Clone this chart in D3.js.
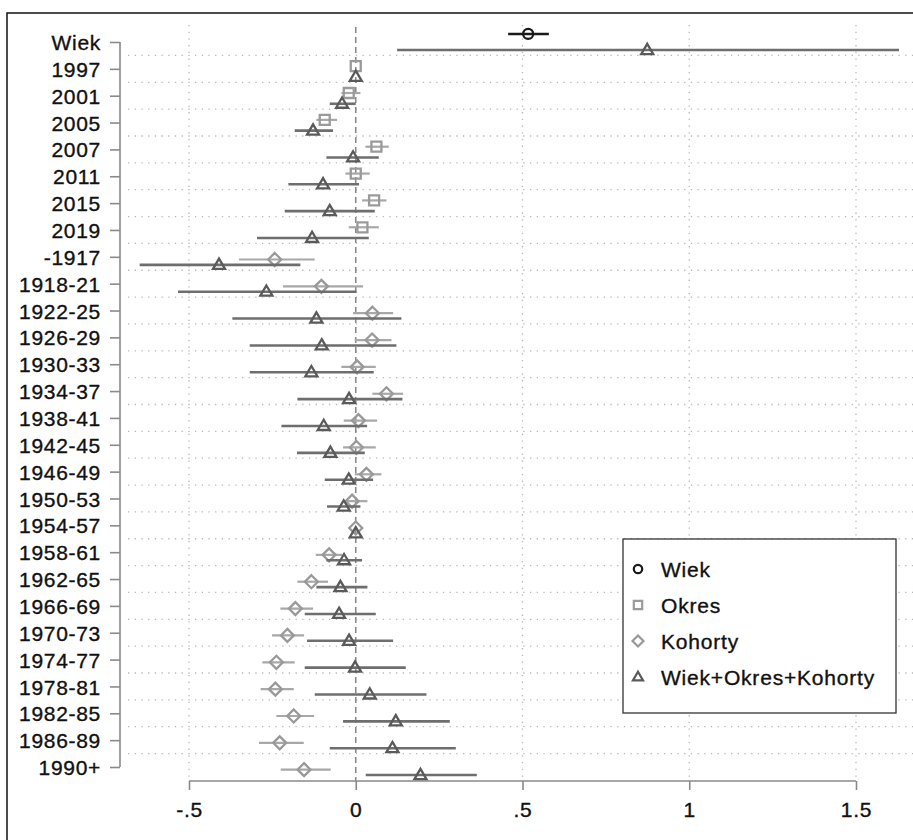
<!DOCTYPE html>
<html>
<head>
<meta charset="utf-8">
<script src="https://cdn.jsdelivr.net/npm/d3@7"></script>
<style>
  html, body { margin: 0; padding: 0; background: #fff; overflow: hidden; }
  svg { display: block; }
  text { font-family: "Liberation Sans", Arial, sans-serif; }
</style>
</head>
<body>
<div id="chart"></div>
<script>
// kategorie na osi Y
const okresCats = ["1997", "2001", "2005", "2007", "2011", "2015", "2019"]
const kohortyCats = ["-1917", "1918-21", "1922-25", "1926-29", "1930-33", "1934-37", "1938-41",
  "1942-45", "1946-49", "1950-53", "1954-57", "1958-61", "1962-65", "1966-69", "1970-73",
  "1974-77", "1978-81", "1982-85", "1986-89", "1990+"]
const allCats = ["Wiek"].concat(okresCats, kohortyCats)

// model: Wiek
const wiekEst = [0.517]
const wiekLo = [0.457]
const wiekHi = [0.579]

// model: Okres
const okresEst = [0, -0.021, -0.093, 0.062, 0.0, 0.055, 0.02]
const okresLo = [0, -0.043, -0.118, 0.029, -0.031, 0.019, -0.021]
const okresHi = [0, 0.014, -0.056, 0.099, 0.042, 0.092, 0.069]

// model: Kohorty
const kohortyEst = [-0.243, -0.103, 0.05, 0.049, 0.004, 0.092, 0.008, 0.002, 0.032, -0.011, 0,
  -0.08, -0.133, -0.181, -0.205, -0.238, -0.241, -0.186, -0.228, -0.155]
const kohortyLo = [-0.35, -0.218, -0.008, -0.003, -0.043, 0.05, -0.036, -0.038, -0.003, -0.038, 0,
  -0.12, -0.175, -0.226, -0.251, -0.28, -0.285, -0.238, -0.29, -0.225]
const kohortyHi = [-0.123, 0.022, 0.112, 0.107, 0.06, 0.142, 0.064, 0.06, 0.077, 0.035, 0,
  -0.04, -0.083, -0.128, -0.155, -0.183, -0.186, -0.125, -0.156, -0.075]

// model: Wiek+Okres+Kohorty (wszystkie kategorie)
const fullEst = [0.874, 0, -0.041, -0.128, -0.008, -0.098, -0.078, -0.131,
  -0.41, -0.268, -0.118, -0.102, -0.133, -0.02, -0.096, -0.076, -0.021, -0.036, 0,
  -0.035, -0.046, -0.05, -0.02, -0.002, 0.042, 0.12, 0.11, 0.194]
const fullLo = [0.124, 0, -0.078, -0.183, -0.088, -0.202, -0.213, -0.296,
  -0.648, -0.533, -0.37, -0.318, -0.318, -0.175, -0.223, -0.176, -0.093, -0.086, 0,
  -0.088, -0.118, -0.153, -0.146, -0.153, -0.123, -0.038, -0.078, 0.03]
const fullHi = [1.629, 0, 0.0, -0.068, 0.069, 0.01, 0.057, 0.039,
  -0.166, 0.002, 0.137, 0.122, 0.054, 0.14, 0.034, 0.027, 0.052, 0.014, 0,
  0.019, 0.035, 0.06, 0.112, 0.15, 0.212, 0.282, 0.3, 0.363]

const xTicks = [-0.5, 0, 0.5, 1, 1.5]
const xTickLabels = ["-.5", "0", ".5", "1", "1.5"]
const legendLabels = ["Wiek", "Okres", "Kohorty", "Wiek+Okres+Kohorty"]

let svgWidth = 913
let svgHeight = 840

const svg = d3.select("#chart").append("svg")
  .attr("width", svgWidth)
  .attr("height", svgHeight)

// ramka - prawa i dolna krawedz poza obrazem
svg.append("path")
  .attr("d", "M7,2000V13H2000")
  .attr("fill", "none")
  .attr("stroke", "#111")
  .attr("stroke-width", 1.5)

const x = d3.scaleLinear().domain([-0.5, 1.5]).range([189, 856])
const y = d3.scalePoint().domain(allCats).range([42, 767])
const step = y.step()

const plotTop = 25, plotBottom = 781, plotLeft = 128, plotRight = 913

// siatka pozioma miedzy kategoriami
const grid = svg.append("g")
for (let i = 0; i < allCats.length - 1; i++) {
  let gy = (y(allCats[i]) + y(allCats[i + 1])) / 2
  grid.append("line")
    .attr("x1", plotLeft).attr("x2", plotRight)
    .attr("y1", gy).attr("y2", gy)
    .attr("stroke", "#b8b8b8")
    .attr("stroke-width", 1.3)
    .attr("stroke-dasharray", "1.3,5.4")
}
// siatka pionowa
grid.selectAll(".vgrid")
  .data(xTicks.filter(d => d !== 0))
  .enter()
  .append("line")
  .attr("x1", d => x(d)).attr("x2", d => x(d))
  .attr("y1", plotTop).attr("y2", plotBottom)
  .attr("stroke", "#b8b8b8")
  .attr("stroke-width", 1.3)
  .attr("stroke-dasharray", "1.3,5.4")

// linia zero
svg.append("line")
  .attr("x1", x(0)).attr("x2", x(0))
  .attr("y1", 27).attr("y2", plotBottom)
  .attr("stroke", "#8a8a8a")
  .attr("stroke-width", 1.6)
  .attr("stroke-dasharray", "6,4")

function styleText(sel) {
  sel.attr("font-size", 21)
    .attr("letter-spacing", 0.7)
    .attr("fill", "#111")
    .attr("stroke", "#111")
    .attr("stroke-width", 0.35)
}

// os Y
const yAxis = svg.append("g")
  .attr("transform", "translate(120,0)")
  .call(d3.axisLeft(y).tickSize(10).tickPadding(9))
yAxis.select(".domain").attr("stroke", "#8a8a8a").attr("stroke-width", 1.6)
  .attr("d", `M0,${y("Wiek")}V${y("1990+")}`)
yAxis.selectAll(".tick line").attr("stroke", "#8a8a8a").attr("stroke-width", 1.6)
yAxis.selectAll(".tick text").call(styleText).attr("dy", "0.36em")

// os X
const xAxis = svg.append("g")
  .attr("transform", `translate(0,${plotBottom})`)
  .call(d3.axisBottom(x).tickValues(xTicks).tickFormat((d, i) => xTickLabels[i]).tickSize(9).tickPadding(12))
xAxis.select(".domain").attr("stroke", "#8a8a8a").attr("stroke-width", 1.6)
  .attr("d", `M${x(-0.5)},0H${x(1.5)}`)
xAxis.selectAll(".tick line").attr("stroke", "#8a8a8a").attr("stroke-width", 1.6)
xAxis.selectAll(".tick text").call(styleText)

// modele
const models = [
  { cats: ["Wiek"], est: wiekEst, lo: wiekLo, hi: wiekHi, shape: "circle", off: -0.3, mark: "#1a1a1a", line: "#1a1a1a", lw: 2.6 },
  { cats: okresCats, est: okresEst, lo: okresLo, hi: okresHi, shape: "square", off: -0.1, mark: "#9a9a9a", line: "#a8a8a8", lw: 2.2 },
  { cats: kohortyCats, est: kohortyEst, lo: kohortyLo, hi: kohortyHi, shape: "diamond", off: 0.1, mark: "#999", line: "#a8a8a8", lw: 2.2 },
  { cats: allCats, est: fullEst, lo: fullLo, hi: fullHi, shape: "triangle", off: 0.3, mark: "#5a5a5a", line: "#6e6e6e", lw: 2.6 }
]

function shapePath(shape, s) {
  if (shape === "square") return `M${-s},${-s}H${s}V${s}H${-s}Z`
  if (shape === "diamond") return `M0,${-s * 1.3}L${s * 1.3},0L0,${s * 1.3}L${-s * 1.3},0Z`
  if (shape === "triangle") return `M0,${-s * 1.25}L${s * 1.2},${s * 0.8}L${-s * 1.2},${s * 0.8}Z`
  return null
}

function drawMarker(g, shape, cx, cy, s, color, sw) {
  if (shape === "circle") {
    g.append("circle").attr("cx", cx).attr("cy", cy).attr("r", s)
      .attr("fill", "none").attr("stroke", color).attr("stroke-width", sw)
  } else {
    g.append("path").attr("d", shapePath(shape, s))
      .attr("transform", `translate(${cx},${cy})`)
      .attr("fill", "none").attr("stroke", color).attr("stroke-width", sw)
  }
}

function drawModel(m) {
  const g = svg.append("g")
  m.cats.forEach((c, i) => {
    let cy = y(c) + m.off * step
    g.append("line")
      .attr("x1", x(m.lo[i])).attr("x2", x(m.hi[i]))
      .attr("y1", cy).attr("y2", cy)
      .attr("stroke", m.line)
      .attr("stroke-width", m.lw)
  })
  m.cats.forEach((c, i) => {
    let cy = y(c) + m.off * step
    drawMarker(g, m.shape, x(m.est[i]), cy, 5, m.mark, 2.3)
  })
}

models.forEach(drawModel)

// legenda
const leg = svg.append("g")
leg.append("rect")
  .attr("x", 623).attr("y", 539)
  .attr("width", 273).attr("height", 174)
  .attr("fill", "#fff")
  .attr("stroke", "#333")
  .attr("stroke-width", 1.3)

legendLabels.forEach((lab, i) => {
  let ly = 569 + i * 36
  let m = models[i]
  drawMarker(leg, m.shape, 638, ly, 4.2, m.mark, 2.2)
  leg.append("text")
    .attr("x", 661).attr("y", ly)
    .attr("dy", "0.36em")
    .call(styleText)
    .attr("letter-spacing", 0.8)
    .text(lab)
})
</script>
</body>
</html>
